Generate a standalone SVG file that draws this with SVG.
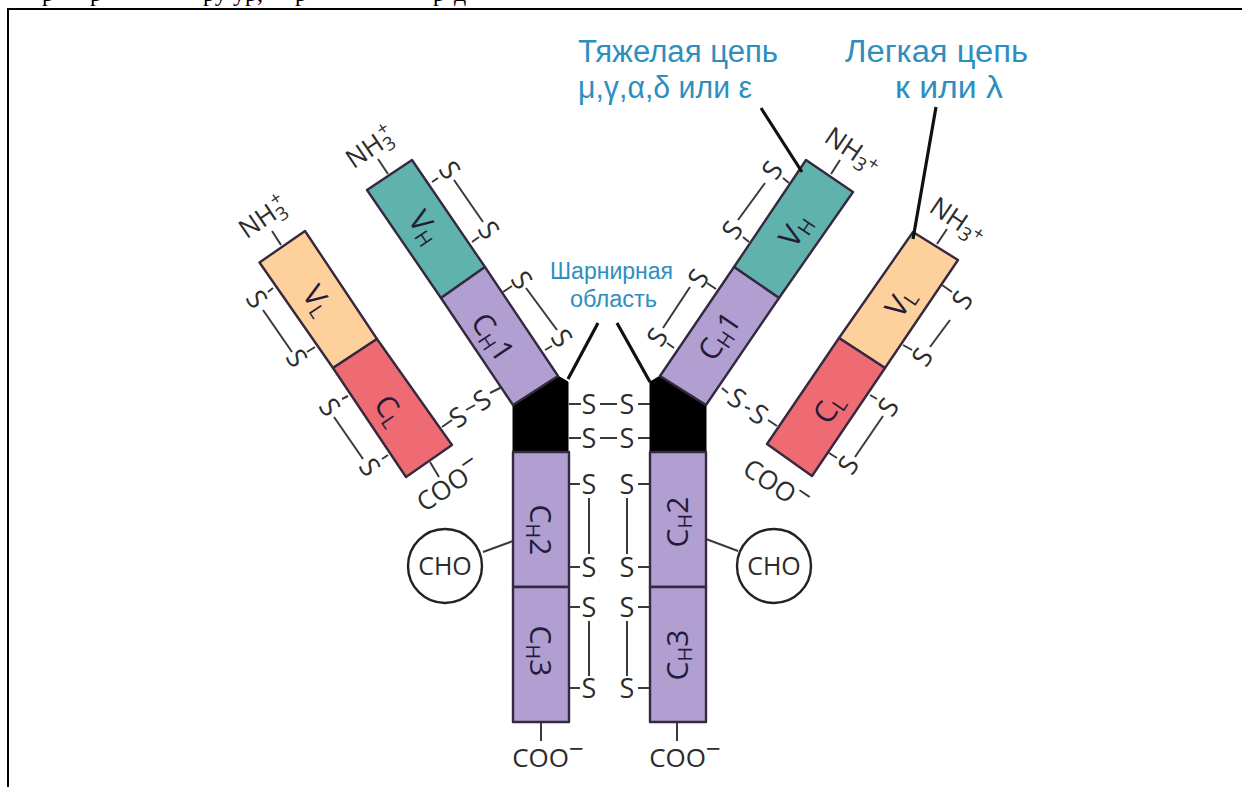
<svg xmlns="http://www.w3.org/2000/svg" width="1242" height="787" viewBox="0 0 1242 787">
<style>
.d{stroke:#35293f;stroke-width:2.400;stroke-linejoin:round}
.l{stroke:#3a3a3a;stroke-width:2;fill:none}
.p{stroke:#111;stroke-width:3.200;fill:none}
text{font-family:"Open Sans","Noto Sans","Liberation Sans",sans-serif;text-anchor:middle;fill:#2c2c2c}
.s{font-size:27px}
.c{font-size:30px;fill:#241b3a}
.m{font-size:26px}
.h{font-size:25px}
.b{font-family:"Liberation Sans",Arial,sans-serif;fill:#2e8fbf;text-anchor:start}
.t{font-family:"Liberation Serif","Times New Roman",serif;font-size:24px;fill:#000;text-anchor:start}
</style>
<rect width="1242" height="787" fill="#fff"/>
<g id="page-text">
<text class="t" x="42" y="1">р</text><text class="t" x="90" y="1">р</text><text class="t" x="203" y="1">ру</text><text class="t" x="233" y="1">ур,</text><text class="t" x="295" y="1">р</text><text class="t" x="433" y="1">р</text><text class="t" x="454" y="1">д</text>
</g>
<path id="frame" d="M8 787V9H1242" fill="none" stroke="#000" stroke-width="2"/>
<g id="connectors">
<path class="l" d="M272 231L281 245M378 159L388 174M840 160L831 174M947 229L937 244M430 462L439 477M541 722V741M677 722V741M789 183L783 178M749 242L743 237M765 183L738 220M716 289L707 283M674 348L667 343M690 287L663 328M722 388L728 393M745 407L750 409M768 420L777 426M870 395L877 399M829 453L837 458M883 416L855 457M942 285L952 292M903 345L912 350M950 320L930 347M273 288L268 292M315 347L307 352M263 310L292 352M432 182L438 178M472 242L479 237M454 180L483 222M503 292L512 286M545 350L552 346M526 288L557 330M442 427L452 420M466 410L475 405M490 393L502 387M348 396L342 399M388 455L382 459M334 417L363 459M569 404H581M600 404H617M638 404H650M569 438H581M600 438H617M638 438H650M569 484H580M638 484H650M589 498V554M627 498V554M569 567H580M638 567H650M569 607H580M638 607H650M589 621V676M627 621V676M569 688H580M638 688H650M483 552L513 541M706 539L738 551"/>
</g>
<g id="hinge-left"><path d="M513 405L558 376L568 382V452H513Z" fill="#000" stroke="#000"/></g>
<g id="hinge-right"><path d="M650 382L660 376L706 405V452H650Z" fill="#000" stroke="#000"/></g>
<g id="vl-left"><path class="d" fill="#fdd09c" d="M259.500 262.500L305 231L377 339L333 368Z"/><text class="c" transform="translate(318 300) rotate(56)" dy=".36em">V<tspan font-size="20" dy="4">L</tspan></text></g>
<g id="cl-left"><path class="d" fill="#ef6b74" d="M333 368L377 339L452 445L406 477Z"/><text class="c" transform="translate(390 410) rotate(56)" dy=".36em">C<tspan font-size="20" dy="4">L</tspan></text></g>
<g id="vh-left"><path class="d" fill="#5fb3ac" d="M367 190L412 160L485 267L441 298Z"/><text class="c" transform="translate(425 227) rotate(56)" dy=".36em">V<tspan font-size="20" dy="4">H</tspan></text></g>
<g id="ch1-left"><path class="d" fill="#b09fd0" d="M441 298L485 267L558 376L513 405Z"/><text class="c" transform="translate(493 337) rotate(56)" dy=".36em">C<tspan font-size="20" dy="4">H</tspan><tspan dy="-4">1</tspan></text></g>
<g id="ch2-left"><rect class="d" fill="#b09fd0" x="513" y="452" width="56" height="135"/><text class="c" transform="translate(541 530) rotate(90)" dy=".36em">C<tspan font-size="20" dy="4">H</tspan><tspan dy="-4">2</tspan></text></g>
<g id="ch3-left"><rect class="d" fill="#b09fd0" x="513" y="587" width="56" height="135"/><text class="c" transform="translate(541 651) rotate(90)" dy=".36em">C<tspan font-size="20" dy="4">H</tspan><tspan dy="-4">3</tspan></text></g>
<g id="vh-right"><path class="d" fill="#5fb3ac" d="M806 160L853 192L779 298L734 267Z"/><text class="c" transform="translate(795 230) rotate(-56)" dy=".36em">V<tspan font-size="20" dy="4">H</tspan></text></g>
<g id="ch1-right"><path class="d" fill="#b09fd0" d="M734 267L779 298L706 405L660 376Z"/><text class="c" transform="translate(719 336) rotate(-56)" dy=".36em">C<tspan font-size="20" dy="4">H</tspan><tspan dy="-4">1</tspan></text></g>
<g id="vl-right"><path class="d" fill="#fdd09c" d="M913 232L958 260L885 368L839 338Z"/><text class="c" transform="translate(900 302) rotate(-56)" dy=".36em">V<tspan font-size="20" dy="4">L</tspan></text></g>
<g id="cl-right"><path class="d" fill="#ef6b74" d="M839 338L885 368L812 476L767 444Z"/><text class="c" transform="translate(828 408) rotate(-56)" dy=".36em">C<tspan font-size="20" dy="4">L</tspan></text></g>
<g id="ch2-right"><rect class="d" fill="#b09fd0" x="650" y="452" width="56" height="135"/><text class="c" transform="translate(677 522) rotate(-90)" dy=".36em">C<tspan font-size="20" dy="4">H</tspan><tspan dy="-4">2</tspan></text></g>
<g id="ch3-right"><rect class="d" fill="#b09fd0" x="650" y="587" width="56" height="135"/><text class="c" transform="translate(677 655) rotate(-90)" dy=".36em">C<tspan font-size="20" dy="4">H</tspan><tspan dy="-4">3</tspan></text></g>
<g id="cho-left"><circle cx="445" cy="566" r="37" fill="#fff" stroke="#222" stroke-width="2.400"/><text class="h" x="445" y="575">CHO</text></g>
<g id="cho-right"><circle cx="774" cy="566" r="37" fill="#fff" stroke="#222" stroke-width="2.400"/><text class="h" x="774" y="575">CHO</text></g>
<g id="pointers"><path class="p" d="M598 323L568 379M617 323L650 382M761 108L802 172M936 107L913 239"/></g>
<g id="disulfides">
<text class="s" transform="translate(257 299) rotate(56)" dy=".36em">S</text><text class="s" transform="translate(297 358) rotate(56)" dy=".36em">S</text>
<text class="s" transform="translate(450 170) rotate(56)" dy=".36em">S</text><text class="s" transform="translate(489 230) rotate(56)" dy=".36em">S</text>
<text class="s" transform="translate(522 280) rotate(56)" dy=".36em">S</text><text class="s" transform="translate(562 338) rotate(56)" dy=".36em">S</text>
<text class="s" transform="translate(330 407) rotate(56)" dy=".36em">S</text><text class="s" transform="translate(370 467) rotate(56)" dy=".36em">S</text>
<text class="s" transform="translate(458 417) rotate(-34)" dy=".36em">S</text><text class="s" transform="translate(482 400) rotate(-34)" dy=".36em">S</text>
<text class="s" transform="translate(772 170) rotate(-56)" dy=".36em">S</text><text class="s" transform="translate(732 230) rotate(-56)" dy=".36em">S</text>
<text class="s" transform="translate(698 278) rotate(-56)" dy=".36em">S</text><text class="s" transform="translate(657 337) rotate(-56)" dy=".36em">S</text>
<text class="s" transform="translate(737 398) rotate(34)" dy=".36em">S</text><text class="s" transform="translate(759 414) rotate(34)" dy=".36em">S</text>
<text class="s" transform="translate(888 407) rotate(-56)" dy=".36em">S</text><text class="s" transform="translate(848 465) rotate(-56)" dy=".36em">S</text>
<text class="s" transform="translate(962 300) rotate(-56)" dy=".36em">S</text><text class="s" transform="translate(922 357) rotate(-56)" dy=".36em">S</text>
<text class="s" x="589" y="404" dy=".36em">S</text><text class="s" x="627" y="404" dy=".36em">S</text>
<text class="s" x="589" y="438" dy=".36em">S</text><text class="s" x="627" y="438" dy=".36em">S</text>
<text class="s" x="589" y="484" dy=".36em">S</text><text class="s" x="627" y="484" dy=".36em">S</text>
<text class="s" x="589" y="567" dy=".36em">S</text><text class="s" x="627" y="567" dy=".36em">S</text>
<text class="s" x="589" y="607" dy=".36em">S</text><text class="s" x="627" y="607" dy=".36em">S</text>
<text class="s" x="589" y="688" dy=".36em">S</text><text class="s" x="627" y="688" dy=".36em">S</text>
</g>
<g id="termini">
<text class="m" transform="translate(263 217) rotate(-34)" dy=".36em">NH<tspan font-size="19" dy="5">3</tspan><tspan font-size="19" dx="-8" dy="-16">+</tspan></text>
<text class="m" transform="translate(370 147) rotate(-34)" dy=".36em">NH<tspan font-size="19" dy="5">3</tspan><tspan font-size="19" dx="-8" dy="-16">+</tspan></text>
<text class="m" transform="translate(853 150) rotate(34)" dy=".36em">NH<tspan font-size="19" dy="5">3</tspan><tspan font-size="19" dy="-8">+</tspan></text>
<text class="m" transform="translate(958 220) rotate(34)" dy=".36em">NH<tspan font-size="19" dy="5">3</tspan><tspan font-size="19" dy="-8">+</tspan></text>
<text class="m" x="548" y="767">COO<tspan dy="-9">−</tspan></text>
<text class="m" x="685" y="767">COO<tspan dy="-9">−</tspan></text>
<text class="m" transform="translate(449 485) rotate(-34)" dy=".36em">COO<tspan dy="-9">−</tspan></text>
<text class="m" transform="translate(776 485) rotate(34)" dy=".36em">COO<tspan dy="-9">−</tspan></text>
</g>
<g id="labels">
<text class="b" x="578" y="62" font-size="31" textLength="200" lengthAdjust="spacingAndGlyphs">Тяжелая цепь</text>
<text class="b" x="578" y="98" font-size="31" textLength="174" lengthAdjust="spacingAndGlyphs">μ,γ,α,δ или ε</text>
<text class="b" x="845" y="62" font-size="31" textLength="183" lengthAdjust="spacingAndGlyphs">Легкая цепь</text>
<text class="b" x="895" y="98" font-size="31" textLength="108" lengthAdjust="spacingAndGlyphs">к или λ</text>
<text class="b" x="550" y="279" font-size="23" textLength="123" lengthAdjust="spacingAndGlyphs">Шарнирная</text>
<text class="b" x="570" y="307" font-size="23" textLength="87" lengthAdjust="spacingAndGlyphs">область</text>
</g>
</svg>
